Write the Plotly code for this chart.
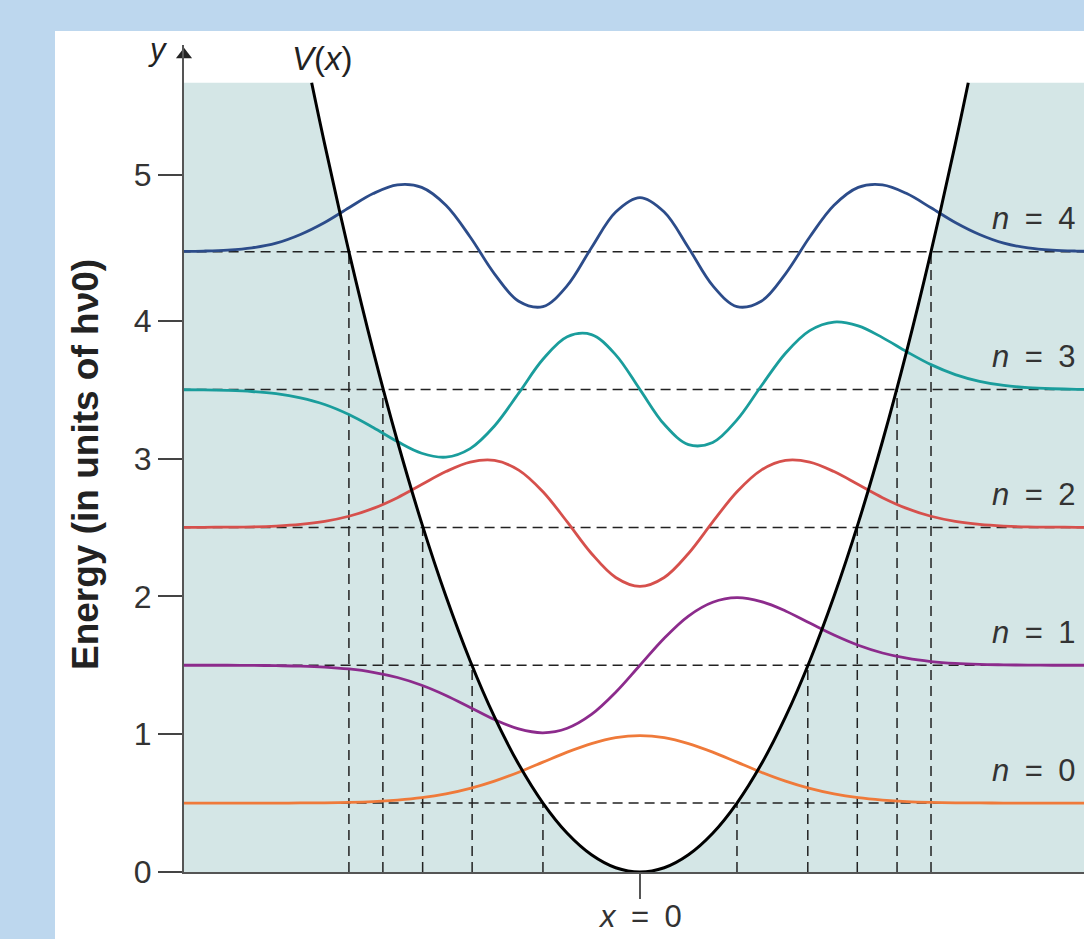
import plotly.graph_objects as go

# ---- data ----
x_grid = [-4.75, -4.5, -4.25, -4.0, -3.75, -3.5, -3.25, -3.0, -2.75, -2.5, -2.25, -2.0,
          -1.75, -1.5, -1.25, -1.0, -0.75, -0.5, -0.25, 0.0, 0.25, 0.5, 0.75, 1.0,
          1.25, 1.5, 1.75, 2.0, 2.25, 2.5, 2.75, 3.0, 3.25, 3.5, 3.75, 4.0, 4.25, 4.5, 4.75]

psi0 = [0.5, 0.5, 0.5, 0.5, 0.5, 0.501, 0.502, 0.505, 0.511, 0.522, 0.539, 0.566,
        0.606, 0.659, 0.724, 0.797, 0.870, 0.932, 0.975, 0.99, 0.975, 0.932, 0.870, 0.797,
        0.724, 0.659, 0.606, 0.566, 0.539, 0.522, 0.511, 0.505, 0.502, 0.501, 0.5, 0.5, 0.5, 0.5, 0.5]

psi1 = [1.5, 1.5, 1.5, 1.499, 1.497, 1.494, 1.487, 1.473, 1.449, 1.411, 1.355, 1.281,
        1.194, 1.106, 1.038, 1.01, 1.043, 1.143, 1.304, 1.5, 1.696, 1.857, 1.957, 1.99,
        1.962, 1.894, 1.806, 1.719, 1.645, 1.589, 1.551, 1.527, 1.513, 1.506, 1.503, 1.501, 1.5, 1.5, 1.5]

psi2 = [2.5, 2.501, 2.502, 2.504, 2.510, 2.522, 2.544, 2.581, 2.638, 2.716, 2.811, 2.905,
        2.974, 2.986, 2.916, 2.759, 2.540, 2.311, 2.137, 2.072, 2.137, 2.311, 2.540, 2.759,
        2.916, 2.986, 2.974, 2.905, 2.811, 2.716, 2.638, 2.581, 2.544, 2.522, 2.510, 2.504, 2.502, 2.501, 2.5]

psi3 = [3.499, 3.498, 3.494, 3.486, 3.470, 3.440, 3.392, 3.319, 3.225, 3.123, 3.038, 3.010,
        3.072, 3.236, 3.474, 3.720, 3.884, 3.899, 3.752, 3.5, 3.248, 3.101, 3.116, 3.280,
        3.526, 3.764, 3.928, 3.990, 3.962, 3.877, 3.775, 3.681, 3.609, 3.560, 3.530, 3.514, 3.506, 3.502, 3.501]

psi4 = [4.502, 4.505, 4.512, 4.528, 4.562, 4.625, 4.712, 4.819, 4.922, 4.985, 4.967, 4.837,
        4.607, 4.340, 4.141, 4.102, 4.254, 4.529, 4.788, 4.893, 4.788, 4.529, 4.254, 4.102,
        4.141, 4.340, 4.607, 4.837, 4.967, 4.985, 4.922, 4.819, 4.712, 4.625, 4.562, 4.528, 4.512, 4.505, 4.502]

pot_x = [-3.384, -3.25, -3.0, -2.75, -2.5, -2.25, -2.0, -1.75, -1.5, -1.25, -1.0, -0.75, -0.5, -0.25,
         0.0, 0.25, 0.5, 0.75, 1.0, 1.25, 1.5, 1.75, 2.0, 2.25, 2.5, 2.75, 3.0, 3.25, 3.384]
pot_y = [5.726, 5.281, 4.5, 3.781, 3.125, 2.531, 2.0, 1.531, 1.125, 0.781, 0.5, 0.281, 0.125, 0.031,
         0.0, 0.031, 0.125, 0.281, 0.5, 0.781, 1.125, 1.531, 2.0, 2.531, 3.125, 3.781, 4.5, 5.281, 5.726]

levels = [0.5, 1.5, 2.5, 3.5, 4.5]
turning_points = [1.0, 1.73, 2.24, 2.65, 3.0]
level_labels = ["<i>n</i>\u2002=\u20020", "<i>n</i>\u2002=\u20021", "<i>n</i>\u2002=\u20022",
                "<i>n</i>\u2002=\u20023", "<i>n</i>\u2002=\u20024"]
y_ticks = ["0", "1", "2", "3", "4", "5"]
x_label = "<i>x</i>\u2002=\u20020"

waves = [psi0, psi1, psi2, psi3, psi4]
wave_colors = ["#ef7a3a", "#8c2b8c", "#d6504c", "#1a9d9c", "#2c4c8a"]

X_MIN, X_MAX = -4.70, 4.577
Y_MAX = 6.0
TOP = 5.726

fig = go.Figure()

# shaded classically forbidden region
shade_x = [X_MIN - 0.2, X_MIN - 0.2] + pot_x + [X_MAX + 0.2, X_MAX + 0.2]
shade_y = [0, TOP] + pot_y + [TOP, 0]
fig.add_trace(go.Scatter(x=shade_x, y=shade_y, fill="toself", fillcolor="#d4e6e6",
                         line=dict(width=0), mode="lines", hoverinfo="skip", showlegend=False))

# horizontal dashed energy levels
hx, hy = [], []
for e in levels:
    hx += [X_MIN - 0.2, X_MAX + 0.2, None]
    hy += [e, e, None]
fig.add_trace(go.Scatter(x=hx, y=hy, mode="lines",
                         line=dict(color="#222222", width=1.5, dash="10px,6px"),
                         hoverinfo="skip", showlegend=False))

# vertical dashed lines at turning points
vx, vy = [], []
for tp, e in zip(turning_points, levels):
    for s in (-1, 1):
        vx += [s * tp, s * tp, None]
        vy += [0, e, None]
fig.add_trace(go.Scatter(x=vx, y=vy, mode="lines",
                         line=dict(color="#222222", width=1.5, dash="10px,6px"),
                         hoverinfo="skip", showlegend=False))

# wavefunctions
for w, c in zip(waves, wave_colors):
    fig.add_trace(go.Scatter(x=x_grid, y=w, mode="lines",
                             line=dict(color=c, width=2.8, shape="spline", smoothing=1.0),
                             hoverinfo="skip", showlegend=False))

# potential
fig.add_trace(go.Scatter(x=pot_x, y=pot_y, mode="lines",
                         line=dict(color="#000000", width=3, shape="spline", smoothing=1.0),
                         hoverinfo="skip", showlegend=False))

# y-axis arrow head
fig.add_trace(go.Scatter(x=[X_MIN], y=[5.93], mode="markers",
                         marker=dict(symbol="triangle-up", size=14, color="#222222"),
                         cliponaxis=False, hoverinfo="skip", showlegend=False))

FONT = "Liberation Sans, Arial, Helvetica, sans-serif"

annotations = []
for lab, e in zip(level_labels, levels):
    annotations.append(dict(x=4.06, y=e + 0.24, xref="x", yref="y", text=lab, showarrow=False,
                            font=dict(family=FONT, size=31, color="#333333"),
                            xanchor="center", yanchor="middle"))
annotations.append(dict(x=-3.27, y=5.9, xref="x", yref="y", text="<i>V</i>(<i>x</i>)",
                        showarrow=False, font=dict(family=FONT, size=33, color="#222222"),
                        xanchor="center", yanchor="middle"))
annotations.append(dict(x=(158 - 184) / 900, y=(872 - 50) / 827, xref="paper", yref="paper",
                        text="<i>y</i>", showarrow=False,
                        font=dict(family=FONT, size=31, color="#222222"),
                        xanchor="center", yanchor="middle"))
annotations.append(dict(x=(85 - 184) / 900, y=(872 - 465) / 827, xref="paper", yref="paper",
                        text="<b>Energy (in units of hν0)</b>", textangle=-90, showarrow=False,
                        font=dict(family=FONT, size=37, color="#222222"),
                        xanchor="center", yanchor="middle"))
annotations.append(dict(x=0, y=(872 - 917) / 827, xref="x", yref="paper",
                        text=x_label, showarrow=False,
                        font=dict(family=FONT, size=31, color="#333333"),
                        xanchor="center", yanchor="middle"))

fig.update_layout(
    width=1084, height=939,
    margin=dict(l=184, r=0, t=45, b=67, autoexpand=False),
    paper_bgcolor="#bdd7ee",
    plot_bgcolor="rgba(0,0,0,0)",
    showlegend=False,
    annotations=annotations,
    shapes=[dict(type="rect", xref="paper", yref="paper",
                 x0=(55 - 184) / 900, x1=1.05, y0=-0.2, y1=(872 - 31) / 827,
                 fillcolor="#ffffff", line=dict(width=0), layer="below")],
    xaxis=dict(range=[X_MIN, X_MAX], showgrid=False, zeroline=False, automargin=False,
               showline=True, linecolor="#555555", linewidth=2,
               tickvals=[0], ticktext=[""], ticks="outside", ticklen=25,
               tickcolor="#555555", tickwidth=1.5,
               tickfont=dict(family=FONT, size=31, color="#333333")),
    yaxis=dict(range=[0, Y_MAX], showgrid=False, zeroline=False, automargin=False,
               showline=True, linecolor="#555555", linewidth=2,
               tickvals=[0, 1, 2, 3, 4, 5.06], ticktext=y_ticks, ticks="outside", ticklen=24,
               tickcolor="#444444", tickwidth=1.5,
               tickfont=dict(family=FONT, size=32, color="#333333")),
)

fig.write_html("out.html", config={"displayModeBar": False},
               post_script="document.body.style.margin='0px';document.body.style.overflow='hidden';")
